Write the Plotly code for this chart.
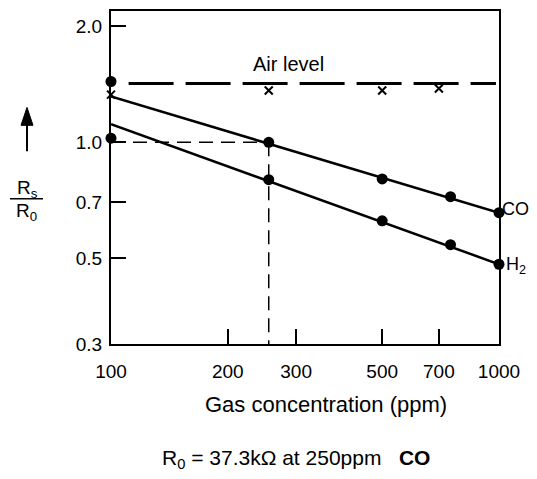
import math
import plotly.graph_objects as go

# ---- data ----
conc_co = [255, 500, 750, 1000]
rs_co = [1.0, 0.804, 0.723, 0.657]
conc_h2 = [255, 500, 750, 1000]
rs_h2 = [0.80, 0.626, 0.543, 0.483]

fit_x = [100, 1000]
fit_co = [1.315, 0.657]
fit_h2 = [1.114, 0.483]

dots_100_x = [100, 100]
dots_100_y = [1.438, 1.025]

air_x_pts = [100, 255, 500, 700]
air_y_pts = [1.33, 1.363, 1.363, 1.379]

air_line_x = [111, 982]
air_line_y = [1.42, 1.42]

guide_h_x = [100, 255]
guide_h_y = [1.0, 1.0]
guide_v_x = [255, 255]
guide_v_y = [1.0, 0.3]

x_ticks = [100, 200, 300, 500, 700, 1000]
x_ticktext = ["100", "200", "300", "500", "700", "1000"]
y_ticks = [0.3, 0.5, 0.7, 1.0, 2.0]
y_ticktext = ["0.3", "0.5", "0.7", "1.0", "2.0"]

TXTFONT = "Liberation Sans, Arial, sans-serif"
TICKFONT = dict(family=TXTFONT, size=19, color="black")

fig = go.Figure()

# guides
fig.add_trace(go.Scatter(x=guide_h_x, y=guide_h_y, mode="lines",
                         line=dict(color="black", width=1.5, dash="14px,8px"), hoverinfo="skip"))
fig.add_trace(go.Scatter(x=guide_v_x, y=guide_v_y, mode="lines",
                         line=dict(color="black", width=1.5, dash="14px,8px"), hoverinfo="skip"))
# air level
fig.add_trace(go.Scatter(x=air_line_x, y=air_line_y, mode="lines",
                         line=dict(color="black", width=3, dash="45px,12px"), hoverinfo="skip"))
# fit lines
fig.add_trace(go.Scatter(x=fit_x, y=fit_co, mode="lines", line=dict(color="black", width=2.5)))
fig.add_trace(go.Scatter(x=fit_x, y=fit_h2, mode="lines", line=dict(color="black", width=2.5)))
# points
fig.add_trace(go.Scatter(x=conc_co, y=rs_co, mode="markers", cliponaxis=False,
                         marker=dict(symbol="circle", size=11, color="black")))
fig.add_trace(go.Scatter(x=conc_h2, y=rs_h2, mode="markers", cliponaxis=False,
                         marker=dict(symbol="circle", size=11, color="black")))
fig.add_trace(go.Scatter(x=dots_100_x, y=dots_100_y, mode="markers", cliponaxis=False,
                         marker=dict(symbol="circle", size=11, color="black")))
fig.add_trace(go.Scatter(x=air_x_pts, y=air_y_pts, mode="markers", cliponaxis=False,
                         marker=dict(symbol="x-thin", size=8, color="black",
                                     line=dict(color="black", width=2))))

# page has an 8px body margin: size/shift the figure so it fits the window and
# the plot area lands at the reference position
fig.update_layout(
    width=521, height=463,
    margin=dict(l=103, r=30, t=1, b=127),
    paper_bgcolor="white", plot_bgcolor="white",
    showlegend=False,
)
fig.update_xaxes(type="log", range=[2, 3], tickvals=x_ticks, ticktext=x_ticktext,
                 showline=True, mirror=True, linecolor="black", linewidth=2,
                 ticks="inside", ticklen=15, tickwidth=1.5, tickcolor="black",
                 showgrid=False, zeroline=False, tickfont=TICKFONT, ticklabelstandoff=9)
fig.update_yaxes(type="log", range=[math.log10(0.3), 0.3406], tickvals=y_ticks, ticktext=y_ticktext,
                 showline=True, mirror=True, linecolor="black", linewidth=2,
                 ticks="inside", ticklen=15, tickwidth=1.5, tickcolor="black",
                 showgrid=False, zeroline=False, tickfont=TICKFONT, ticklabelstandoff=3)

def P(px, py):
    # page pixel -> paper fraction (plot area 111..499 x, 9..344 y)
    return (px - 111) / 388.0, (344 - py) / 335.0

ann = []
ann.append(dict(x=math.log10(287), y=math.log10(1.6), xref="x", yref="y", text="Air level",
                xanchor="center", yanchor="middle",
                showarrow=False, font=dict(family=TXTFONT, size=20, color="black")))
ann.append(dict(x=3, y=math.log10(fit_co[1]), xref="x", yref="y", text="CO", xanchor="left",
                yanchor="middle", xshift=1, yshift=4, showarrow=False,
                font=dict(family=TXTFONT, size=18, color="black")))
ann.append(dict(x=3, y=math.log10(fit_h2[1]), xref="x", yref="y", text="H<sub>2</sub>", xanchor="left",
                yanchor="middle", xshift=5, yshift=-1, showarrow=False,
                font=dict(family=TXTFONT, size=18, color="black")))
px, py = P(326, 405)
ann.append(dict(x=px, y=py, xref="paper", yref="paper", text="Gas concentration (ppm)",
                xanchor="center", yanchor="middle",
                showarrow=False, font=dict(family=TXTFONT, size=22, color="black")))
px, py = P(296, 460)
ann.append(dict(x=px, y=py, xref="paper", yref="paper",
                text="R<sub>0</sub> = 37.3kΩ at 250ppm\u00a0\u00a0\u00a0<b>CO</b>",
                xanchor="center", yanchor="middle",
                showarrow=False, font=dict(family=TXTFONT, size=21, color="black")))
px, py = P(27, 188)
ann.append(dict(x=px, y=py, xref="paper", yref="paper", text="R<sub>s</sub>",
                xanchor="center", yanchor="middle",
                showarrow=False, font=dict(family=TXTFONT, size=19, color="black")))
px, py = P(26, 211)
ann.append(dict(x=px, y=py, xref="paper", yref="paper", text="R<sub>0</sub>",
                xanchor="center", yanchor="middle",
                showarrow=False, font=dict(family=TXTFONT, size=19, color="black")))
fig.update_layout(annotations=ann)

# fraction bar
x0, y0 = P(10, 198)
x1, _ = P(43, 198)
fig.add_shape(type="line", xref="paper", yref="paper", x0=x0, x1=x1, y0=y0, y1=y0,
              line=dict(color="black", width=1.5))
# arrow stem and head
sx, sy0 = P(27, 150)
_, sy1 = P(27, 120)
fig.add_shape(type="line", xref="paper", yref="paper", x0=sx, x1=sx, y0=sy0, y1=sy1,
              line=dict(color="black", width=2))
tx, ty = P(27, 106)
lx, ly = P(21, 124)
rx, _ = P(33, 124)
fig.add_shape(type="path", xref="paper", yref="paper",
              path=f"M {tx} {ty} L {lx} {ly} L {rx} {ly} Z",
              fillcolor="black", line=dict(color="black", width=1))

fig.write_html("out.html")
